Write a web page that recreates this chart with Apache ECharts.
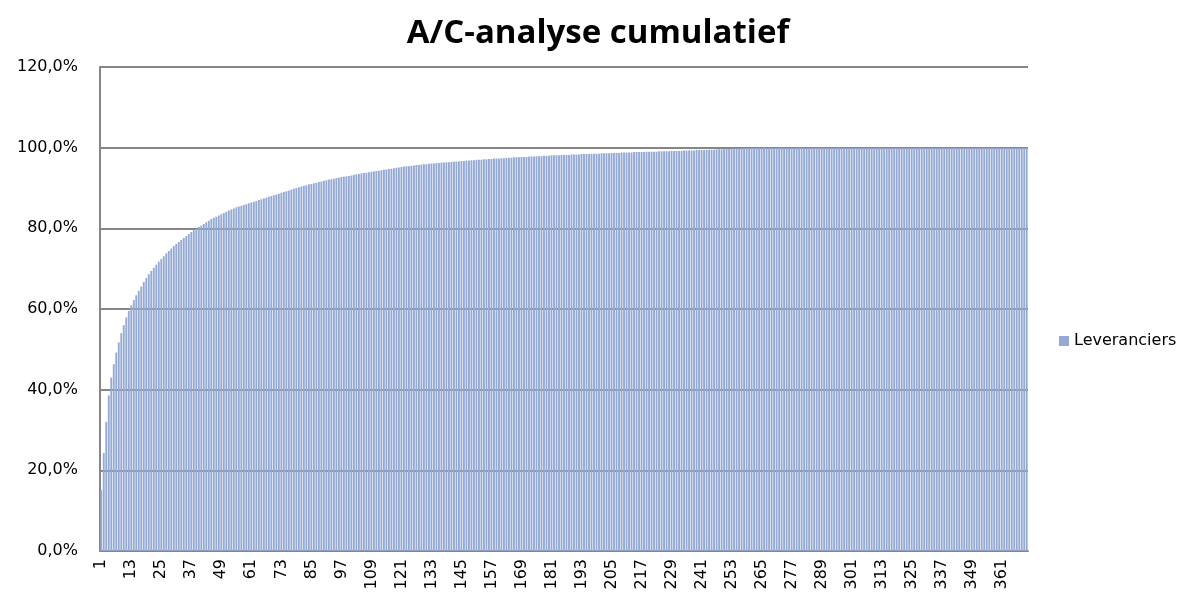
<!DOCTYPE html>
<html>
<head>
<meta charset="utf-8">
<script src="https://cdn.jsdelivr.net/npm/echarts@6/dist/echarts.min.js"></script>
<style>
  html, body { margin: 0; padding: 0; background: #fff; }
  #chart { width: 1196px; height: 602px; }
</style>
</head>
<body>
<div id="chart"></div>
<script>
// cumulatieve aandelen per leverancier (%)
var waarden = [
  15.1, 24.3, 32.0, 38.6, 43.0, 46.3, 49.2, 51.7, 54.0, 56.0,
  57.9, 59.5, 60.9, 62.2, 63.4, 64.5, 65.6, 66.7, 67.7, 68.6,
  69.4, 70.2, 71.0, 71.7, 72.4, 73.1, 73.8, 74.4, 75.0, 75.6,
  76.1, 76.6, 77.1, 77.6, 78.1, 78.6, 79.1, 79.5, 79.9, 80.3,
  80.7, 81.1, 81.5, 81.9, 82.3, 82.6, 82.9, 83.2, 83.5, 83.8,
  84.1, 84.4, 84.7, 84.9, 85.2, 85.4, 85.6, 85.8, 86.0, 86.2,
  86.4, 86.6, 86.8, 87.0, 87.2, 87.4, 87.6, 87.8, 88.0, 88.2,
  88.4, 88.6, 88.8, 89.0, 89.2, 89.4, 89.6, 89.8, 90.0, 90.2,
  90.4, 90.5, 90.7, 90.9, 91.0, 91.2, 91.3, 91.5, 91.6, 91.8,
  91.9, 92.1, 92.2, 92.3, 92.5, 92.6, 92.7, 92.8, 92.9, 93.0,
  93.1, 93.3, 93.4, 93.5, 93.6, 93.7, 93.8, 93.9, 94.0, 94.1,
  94.2, 94.3, 94.4, 94.5, 94.6, 94.7, 94.8, 94.9, 95.0, 95.1,
  95.2, 95.3, 95.4, 95.4, 95.5, 95.6, 95.7, 95.7, 95.8, 95.9,
  95.9, 96.0, 96.1, 96.1, 96.2, 96.2, 96.3, 96.3, 96.4, 96.4,
  96.5, 96.5, 96.6, 96.6, 96.7, 96.7, 96.8, 96.8, 96.9, 96.9,
  97.0, 97.0, 97.0, 97.1, 97.1, 97.2, 97.2, 97.3, 97.3, 97.3,
  97.4, 97.4, 97.5, 97.5, 97.5, 97.6, 97.6, 97.6, 97.7, 97.7,
  97.7, 97.8, 97.8, 97.8, 97.9, 97.9, 97.9, 98.0, 98.0, 98.0,
  98.1, 98.1, 98.1, 98.1, 98.2, 98.2, 98.2, 98.2, 98.3, 98.3,
  98.3, 98.3, 98.4, 98.4, 98.4, 98.4, 98.5, 98.5, 98.5, 98.5,
  98.6, 98.6, 98.6, 98.6, 98.7, 98.7, 98.7, 98.7, 98.8, 98.8,
  98.8, 98.8, 98.8, 98.9, 98.9, 98.9, 98.9, 98.9, 99.0, 99.0,
  99.0, 99.0, 99.0, 99.1, 99.1, 99.1, 99.1, 99.1, 99.2, 99.2,
  99.2, 99.2, 99.2, 99.3, 99.3, 99.3, 99.3, 99.3, 99.4, 99.4,
  99.4, 99.4, 99.5, 99.5, 99.5, 99.5, 99.6, 99.6, 99.6, 99.7,
  99.7, 99.7, 99.8, 99.8, 99.8, 99.8, 99.8, 99.9, 99.9, 99.9,
  99.9, 99.9, 99.9, 99.9, 99.9, 100, 100, 100, 100, 100,
  100, 100, 100, 100, 100, 100, 100, 100, 100, 100,
  100, 100, 100, 100, 100, 100, 100, 100, 100, 100,
  100, 100, 100, 100, 100, 100, 100, 100, 100, 100,
  100, 100, 100, 100, 100, 100, 100, 100, 100, 100,
  100, 100, 100, 100, 100, 100, 100, 100, 100, 100,
  100, 100, 100, 100, 100, 100, 100, 100, 100, 100,
  100, 100, 100, 100, 100, 100, 100, 100, 100, 100,
  100, 100, 100, 100, 100, 100, 100, 100, 100, 100,
  100, 100, 100, 100, 100, 100, 100, 100, 100, 100,
  100, 100, 100, 100, 100, 100, 100, 100, 100, 100,
  100
];
// leveranciers genummerd 1..n
var leveranciers = [];
for (var i = 0; i < waarden.length; i++) {
  leveranciers.push(String(i + 1));
}
var yMax = 120;
var yStap = 20;

var myChart = echarts.init(document.getElementById("chart"));
var option = {
  animation: false,
  backgroundColor: "#fff",
  textStyle: { fontFamily: "DejaVu Sans" },
  title: {
    text: "A/C-analyse cumulatief",
    left: "center",
    top: 12,
    textStyle: { fontFamily: "Open Sans", fontWeight: "bold", fontSize: 33, color: "#000" },
  },
  legend: {
    data: ["Leveranciers"],
    orient: "vertical",
    left: 1054,
    top: 328,
    icon: "rect",
    itemWidth: 10,
    itemHeight: 10,
    itemGap: 5,
    textStyle: { fontSize: 16, color: "#000", fontFamily: "DejaVu Sans" },
  },
  grid: { left: 100, right: 168, top: 67, bottom: 51, containLabel: false },
  xAxis: {
    type: "category",
    data: leveranciers,
    axisLine: { lineStyle: { color: "#868686", width: 2 } },
    axisTick: { show: false },
    axisLabel: {
      interval: 11,
      rotate: 90,
      fontSize: 16,
      color: "#000",
      margin: 8,
    },
  },
  yAxis: {
    type: "value",
    min: 0,
    max: yMax,
    interval: yStap,
    axisLine: { show: true, lineStyle: { color: "#868686", width: 2 } },
    axisTick: { show: false },
    splitLine: { lineStyle: { color: "#868686", width: 2 } },
    axisLabel: {
      fontSize: 16,
      color: "#000",
      margin: 22,
      formatter: function (v) {
        return v.toFixed(1).replace(".", ",") + "%";
      },
    },
  },
  series: [
    {
      name: "Leveranciers",
      type: "bar",
      data: waarden,
      barCategoryGap: "25%",
      itemStyle: { color: "#94a9d4" },
    },
  ],
};
myChart.setOption(option);
</script>
</body>
</html>
